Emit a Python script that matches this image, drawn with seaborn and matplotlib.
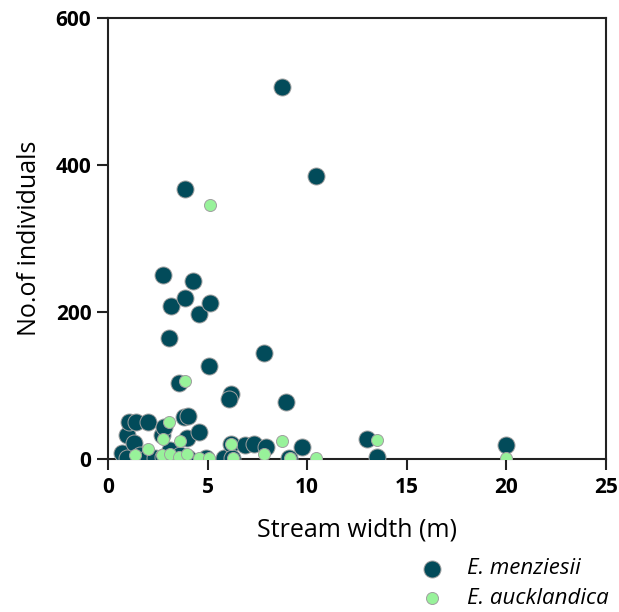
import matplotlib
matplotlib.use("Agg")
import matplotlib.pyplot as plt
import seaborn as sns
import pandas as pd

# E. menziesii (stream width m, no. of individuals)
menz_x = [0.7, 0.95, 0.95, 1.3, 1.05, 1.4, 2.0, 1.6, 1.95, 2.35, 2.7, 2.8, 2.75, 3.1, 3.3, 3.6,
          3.98, 4.0, 3.8, 4.0, 4.55, 4.9, 5.8, 6.15, 6.2, 6.88, 7.35, 7.95, 9.1, 9.75, 13.0,
          13.5, 20.0, 3.56, 6.15, 6.05, 8.92, 5.07, 7.85, 3.08, 4.57, 3.16, 5.14, 3.87, 4.27,
          2.78, 3.87, 10.44, 8.74]
menz_y = [8, 1, 32, 22, 51, 51, 50, 6, 1, 1, 32, 44, 3, 12, 2, 6,
          28, 2, 57, 59, 37, 2, 1, 21, 1, 19, 20, 16, 2, 16, 27,
          3, 19, 104, 89, 81, 78, 126, 144, 164, 197, 208, 212, 219, 242,
          251, 367, 385, 506]

# E. aucklandica
auck_x = [1.36, 2.02, 2.7, 2.78, 3.06, 3.11, 3.55, 3.6, 3.95, 4.58, 5.08, 6.17, 6.25, 7.85,
          8.75, 9.14, 10.42, 13.5, 20.0, 3.87, 5.1]
auck_y = [5, 13, 5, 27, 51, 7, 3, 24, 7, 1, 1, 21, 1, 7,
          25, 2, 2, 26, 1, 106, 346]

species = ["E. menziesii", "E. aucklandica"]
colors = ["#024b5a", "#98f29a"]
x_ticks = [0, 5, 10, 15, 20, 25]
y_ticks = [0, 200, 400, 600]

df = pd.DataFrame({
    "width": menz_x + auck_x,
    "n": menz_y + auck_y,
    "species": [species[0]] * len(menz_x) + [species[1]] * len(auck_x),
})

sns.set_style("white")
plt.rcParams["font.family"] = ["Open Sans", "DejaVu Sans"]
plt.rcParams["text.color"] = "black"
plt.rcParams["axes.labelcolor"] = "black"
plt.rcParams["xtick.color"] = "black"
plt.rcParams["ytick.color"] = "black"

fig = plt.figure(figsize=(6.19, 6.12), dpi=100)
ax = fig.add_axes([0.1745, 0.25, 0.8045, 0.7206])

sns.scatterplot(data=df[df.species == species[0]], x="width", y="n", color=colors[0],
                s=150, edgecolor="#a0a0a0", linewidth=0.7, ax=ax, label=species[0], zorder=3)
sns.scatterplot(data=df[df.species == species[1]], x="width", y="n", color=colors[1],
                s=75, edgecolor="#a0a0a0", linewidth=0.7, ax=ax, label=species[1], zorder=4)

ax.set_xlim(0, 25)
ax.set_ylim(0, 600)
ax.set_xticks(x_ticks)
ax.set_yticks(y_ticks)
for s in ax.spines.values():
    s.set_linewidth(1.5)
    s.set_color("#222222")
    s.set_visible(True)
ax.tick_params(axis="both", direction="out", length=8, width=1.5, color="#222222",
               labelsize=15, bottom=True, left=True)
ax.tick_params(axis="x", pad=5)
ax.tick_params(axis="y", pad=4)
for lab in ax.get_xticklabels() + ax.get_yticklabels():
    lab.set_fontweight("bold")
ax.set_xlabel("Stream width (m)", fontsize=18, labelpad=14)
ax.set_ylabel("No.of individuals", fontsize=18, labelpad=10)

leg = ax.legend(loc="upper left", bbox_to_anchor=(0.565, -0.18), frameon=False,
                prop={"style": "italic", "size": 16}, handletextpad=0.6, labelspacing=0.4,
                markerscale=1.0)

fig.savefig("out.png", dpi=100, facecolor="white")
